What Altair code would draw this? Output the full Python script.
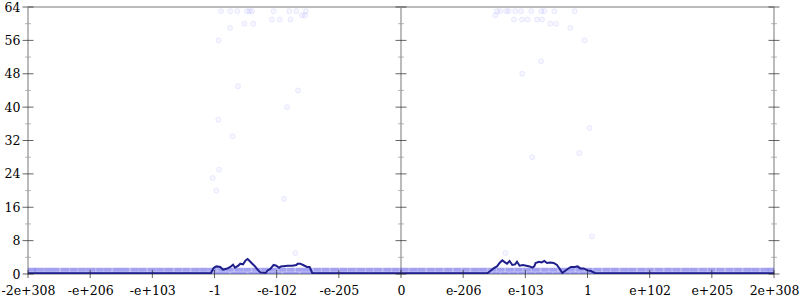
import json
import altair as alt
import pandas as pd

# ---- axis ticks / labels ----
x_tick_pos = [-6, -5, -4, -3, -2, -1, 0, 1, 2, 3, 4, 5, 6]
x_tick_labels = ["-2e+308", "-e+206", "-e+103", "-1", "-e-102", "-e-205", "0",
                 "e-206", "e-103", "1", "e+102", "e+205", "2e+308"]
y_major = [0, 8, 16, 24, 32, 40, 48, 56, 64]
y_minor = [4, 12, 20, 28, 36, 44, 52, 60]
axis_x = [-6, 0, 6]

# ---- summary line (position in ordinal units, value) ----
line_x = [-6.0, -3.10, -3.056, -3.014, -2.971, -2.907, -2.863, -2.821, -2.789, -2.746,
          -2.702, -2.670, -2.617, -2.585, -2.541, -2.500, -2.467, -2.435, -2.392,
          -2.348, -2.307, -2.263, -2.178, -2.146, -2.102, -2.049, -2.006, -1.962,
          -1.930, -1.824, -1.748, -1.684, -1.663, -1.620, -1.576, -1.512, -1.470,
          -1.427, -1.38, 0.0, 1.35, 1.393, 1.436, 1.489, 1.544, 1.586, 1.629, 1.673,
          1.705, 1.747, 1.790, 1.834, 1.866, 1.908, 1.962, 2.015, 2.069, 2.112,
          2.144, 2.165, 2.220, 2.262, 2.305, 2.348, 2.401, 2.455, 2.509, 2.562,
          2.595, 2.638, 2.680, 2.734, 2.799, 2.841, 2.884, 2.937, 3.001, 3.056,
          3.120, 3.16, 6.0]
line_y = [0.2, 0.2, 0.24, 1.44, 1.82, 1.68, 1.03, 1.2, 1.34, 1.68,
          2.23, 1.51, 1.99, 2.47, 2.3, 3.26, 3.6, 3.12, 2.47,
          1.82, 1.03, 0.38, 0.24, 0.86, 1.2, 2.16, 1.99, 1.51,
          1.82, 1.99, 1.99, 2.16, 2.47, 2.47, 2.16, 1.68, 1.68,
          0.24, 0.2, 0.2, 0.2, 0.24, 0.72, 1.34, 1.82, 2.64, 3.26, 2.78,
          2.47, 3.12, 2.16, 2.3, 2.95, 1.99, 2.16, 1.99, 1.82, 1.51,
          1.82, 2.64, 2.95, 2.78, 3.12, 2.64, 2.78, 2.64, 2.16, 1.03,
          0.24, 0.72, 1.2, 1.68, 1.68, 1.82, 1.34, 1.34, 0.86, 0.72,
          0.24, 0.2, 0.2]

# ---- dense band of points at values 1 and 0 ----
band1_x = [-6.08, -5.95, -5.81, -5.70, -5.54, -5.41, -5.27, -5.12, -4.99, -4.86,
           -4.70, -4.58, -4.43, -4.30, -4.14, -4.02, -3.87, -3.73, -3.60, -3.44,
           -3.31, -3.17, -3.03, -2.90, -2.74, -2.62, -2.47, -2.33, -2.19, -2.05,
           -1.92, -1.76, -1.63, -1.49, -1.36, -1.20, -1.07, -0.93, -0.78, -0.65,
           -0.51, -0.36, -0.23, -0.08, 0.06, 0.19, 0.34, 0.47, 0.62, 0.76,
           0.90, 1.05, 1.18, 1.33, 1.46, 1.61, 1.75, 1.89, 2.03, 2.17,
           2.31, 2.46, 2.59, 2.74, 2.87, 3.02, 3.16, 3.30, 3.45, 3.58,
           3.73, 3.86, 4.01, 4.15, 4.29, 4.44, 4.57, 4.72, 4.85, 5.00,
           5.14, 5.28, 5.43, 5.56, 5.71, 5.84, 5.99, 6.10]
band0_x = [-6.02, -5.86, -5.77, -5.61, -5.47, -5.35, -5.19, -5.06, -4.92, -4.77,
           -4.65, -4.49, -4.37, -4.21, -4.09, -3.93, -3.81, -3.65, -3.53, -3.37,
           -3.25, -3.09, -2.97, -2.81, -2.69, -2.53, -2.41, -2.25, -2.13, -1.97,
           -1.85, -1.69, -1.57, -1.41, -1.29, -1.13, -1.01, -0.85, -0.73, -0.57,
           -0.45, -0.29, -0.17, -0.01, 0.13, 0.27, 0.41, 0.55, 0.69, 0.83,
           0.97, 1.11, 1.25, 1.39, 1.53, 1.67, 1.81, 1.95, 2.09, 2.23,
           2.37, 2.51, 2.65, 2.79, 2.93, 3.07, 3.21, 3.35, 3.49, 3.63,
           3.77, 3.91, 4.05, 4.19, 4.33, 4.47, 4.61, 4.75, 4.89, 5.03,
           5.17, 5.31, 5.45, 5.59, 5.73, 5.87, 6.01]

# ---- sparse high points ----
scatter_x = [-2.895, -2.746, -2.633, -2.477, -2.435, -2.397, -2.049, -1.797, -1.684, -1.528,
             -2.516, -2.376, -2.075, -1.953, -1.776, -1.592, -1.544, -2.751, -2.934,
             -2.622, -1.657, -1.834, -2.939, -2.709, -2.927, -3.030, -2.971, -1.882, -1.70,
             1.544, 1.597, 1.694, 1.731, 1.838, 1.930, 2.096, 2.257, 2.305, 2.466, 2.792,
             1.517, 1.818, 1.946, 2.036, 2.188, 2.268, 2.401, 2.493, 2.723, 2.953,
             2.252, 1.951, 3.034, 2.112, 2.868, 3.07, 1.68]
scatter_y = [63, 63, 63, 63, 63, 63, 63, 63, 63, 63,
             60, 60, 61, 61, 61, 62, 62, 59, 56,
             45, 44, 40, 37, 33, 25, 23, 20, 18, 5,
             63, 63, 63, 63, 63, 63, 63, 63, 63, 63, 63,
             62, 61, 61, 61, 61, 61, 60, 60, 59, 56,
             51, 48, 35, 28, 29, 9, 5]

# ---- tables ----
line_df = pd.DataFrame({"x": line_x, "y": line_y})
band_df = pd.DataFrame({"x": band1_x + band0_x,
                        "y": [1] * len(band1_x) + [0] * len(band0_x)})
scat_df = pd.DataFrame({"x": scatter_x, "y": scatter_y})
vrule_df = pd.DataFrame({"x": axis_x})
hrule_df = pd.DataFrame({"y": [0, 64]})
ymaj_df = pd.DataFrame([{"x": a, "y": v} for a in axis_x for v in y_major])
ymin_df = pd.DataFrame([{"x": a, "y": v} for a in axis_x for v in y_minor])
xtick_df = pd.DataFrame({"x": x_tick_pos, "y": [0] * len(x_tick_pos)})

label_expr = json.dumps(x_tick_labels) + "[datum.value + 6]"
FONT = "DejaVu Serif"

X = alt.X("x:Q", title=None,
          scale=alt.Scale(domain=[-6, 6], nice=False, zero=False),
          axis=alt.Axis(values=x_tick_pos, labelExpr=label_expr, ticks=False, tickSize=0,
                        domain=False, grid=False, labelFont=FONT, labelFontSize=12.5,
                        labelColor="black", labelPadding=10, labelOverlap=False,
                        labelBound=False, labelFlush=False))
Y = alt.Y("y:Q", title=None,
          scale=alt.Scale(domain=[0, 64], nice=False, zero=False),
          axis=alt.Axis(values=y_major, ticks=False, tickSize=0, domain=False, grid=False,
                        labelFont=FONT, labelFontSize=12.5, labelColor="black",
                        labelPadding=8))

GRAY = "#bbbbbb"
vrules = alt.Chart(vrule_df).mark_rule(color=GRAY, strokeWidth=2).encode(x=X)
hrules = alt.Chart(hrule_df).mark_rule(color=GRAY, strokeWidth=2).encode(y=Y)

band = alt.Chart(band_df).mark_point(
    shape="M-1,-0.16L1,-0.16L1,0.16L-1,0.16Z", size=625, filled=True,
    color="#2020e0", opacity=0.16, clip=True).encode(x=X, y=Y)

scatter = alt.Chart(scat_df).mark_point(
    filled=True, size=26, fill="#0000ff", fillOpacity=0.035,
    stroke="#0000ff", strokeOpacity=0.07, strokeWidth=1, clip=True).encode(x=X, y=Y)

line = alt.Chart(line_df).mark_line(color="#1f1f8c", strokeWidth=2, clip=True).encode(x=X, y=Y)

ymaj = alt.Chart(ymaj_df).mark_tick(orient="horizontal", size=11, thickness=1,
                                    color="#222222").encode(x=X, y=Y)
ymin = alt.Chart(ymin_df).mark_tick(orient="horizontal", size=6, thickness=1,
                                    color="#999999").encode(x=X, y=Y)
xt = alt.Chart(xtick_df).mark_tick(orient="vertical", size=8, thickness=1,
                                   color="#222222").encode(x=X, y=Y)

chart = alt.layer(vrules, hrules, band, scatter, line, ymaj, ymin, xt).properties(
    width=746, height=267,
    autosize=alt.AutoSizeParams(type="none"),
    padding={"left": 28, "top": 7, "right": 26, "bottom": 26},
    background="white",
).configure_view(strokeWidth=0)

chart.save("out.html", embed_options={"renderer": "svg", "actions": False})
